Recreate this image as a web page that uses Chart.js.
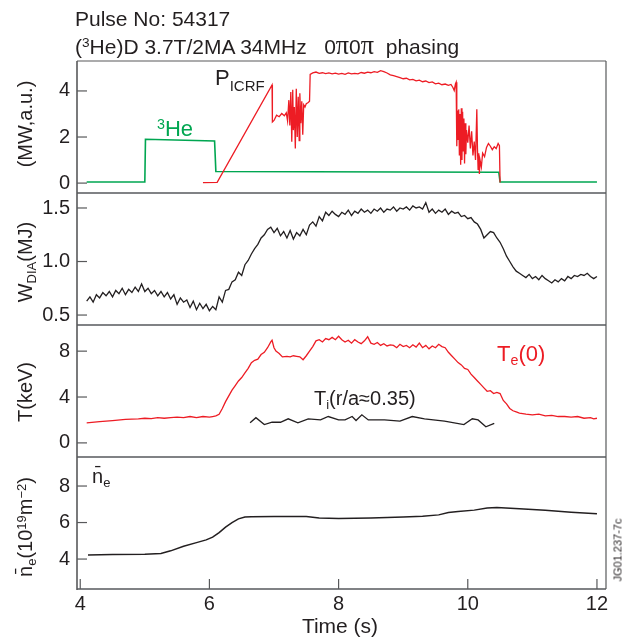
<!DOCTYPE html>
<html><head><meta charset="utf-8">
<script src="https://cdn.jsdelivr.net/npm/chart.js@4.4.1/dist/chart.umd.min.js"></script>
<style>
html,body{margin:0;padding:0;background:#fff;}
#wrap{position:relative;width:624px;height:641px;overflow:hidden;font-family:'Liberation Sans',Arial,sans-serif;color:#231f20;}
canvas{position:absolute;left:0;top:0;}
.t{position:absolute;white-space:nowrap;line-height:1;}
.rot{position:absolute;white-space:nowrap;line-height:1;transform:translate(-50%,-50%) rotate(-90deg);}
.sub{font-size:0.65em;position:relative;top:0.3em;}
.sup{font-size:0.65em;position:relative;top:-0.5em;}
.pi{font-family:'Liberation Serif','DejaVu Serif',serif;font-size:1.25em;}
</style></head>
<body><div id="wrap"><canvas id="c" width="624" height="641"></canvas>
<div class="t" style="left:75px;top:8px;font-size:21px">Pulse No: 54317</div>
<div class="t" style="left:75px;top:33px;font-size:21px">(<span class="sup">3</span>He)D 3.7T/2MA 34MHz&nbsp;&nbsp; 0<span class="pi">π</span>0<span class="pi">π</span>&nbsp; phasing</div>
<div class="t" style="left:157px;top:118px;font-size:22px;color:#00a651"><span class="sup">3</span>He</div>
<div class="t" style="left:215px;top:67px;font-size:22px">P<span class="sub" style="font-size:15px;top:6px">ICRF</span></div>
<div class="t" style="left:497px;top:343px;font-size:22px;color:#ed1c24">T<span class="sub">e</span>(0)</div>
<div class="t" style="left:314px;top:388px;font-size:20px">T<span class="sub">i</span>(r/a≈0.35)</div>
<div class="t" style="left:92px;top:466px;font-size:20px">n̄<span class="sub">e</span></div>
<div class="rot" style="left:25px;top:124px;font-size:20px">(MW,a.u.)</div>
<div class="rot" style="left:25px;top:262px;font-size:20px">W<span class="sub">DIA</span>(MJ)</div>
<div class="rot" style="left:25px;top:392px;font-size:20px">T(keV)</div>
<div class="rot" style="left:25px;top:527px;font-size:20px">n̄<span class="sub">e</span>(10<span class="sup">19</span>m<span class="sup">−2</span>)</div>
<div class="t" style="left:340px;top:615px;font-size:21px;transform:translateX(-50%)">Time (s)</div>
<div class="rot" style="left:618px;top:550px;font-size:11px">JG01.237-7c</div>
</div>
<script>
// ---- data ----
const xTicks = [4, 6, 8, 10, 12];
const pTicks = [0, 2, 4];
const wTicks = [0.5, 1.0, 1.5];
const tTicks = [0, 2, 4, 6, 8];
const tTickLabels = [0, 4, 8];
const nTicks = [4, 6, 8];

const heTime = [4.10, 5.00, 5.01, 6.08, 6.10, 10.48, 10.50, 12.00];
const heVal  = [0.05, 0.05, 1.90, 1.83, 0.50, 0.47, 0.05, 0.05];

const pTime = [5.90,6.12,6.97,6.975,7.00,7.04,7.08,7.12,7.16,7.19,7.21,7.23,7.245,7.26,7.275,7.29,7.30,7.315,7.33,7.345,7.36,7.375,7.39,7.40,7.415,7.43,7.445,7.46,7.48,7.50,7.53,7.55,7.56,7.60,7.65,7.70,7.75,7.80,7.85,7.90,7.95,8.00,8.05,8.10,8.15,8.20,8.25,8.30,8.35,8.40,8.45,8.50,8.55,8.60,8.65,8.70,8.75,8.80,8.85,8.90,8.95,9.00,9.05,9.10,9.15,9.20,9.25,9.30,9.35,9.40,9.45,9.50,9.55,9.60,9.65,9.70,9.74,9.77,9.79,9.81,9.82,9.83,9.84,9.85,9.86,9.87,9.88,9.89,9.90,9.91,9.92,9.93,9.94,9.95,9.96,9.97,9.98,10.00,10.02,10.04,10.06,10.08,10.10,10.12,10.14,10.15,10.16,10.17,10.18,10.19,10.21,10.23,10.26,10.29,10.32,10.35,10.38,10.41,10.44,10.47,10.49,10.50];
const pVal  = [0.02,0.03,4.26,2.65,2.72,2.95,2.88,3.02,2.92,3.05,2.70,3.60,2.50,3.95,1.80,4.05,2.30,3.30,1.50,4.10,2.00,3.75,1.85,3.90,2.60,3.55,2.10,3.40,3.30,3.45,3.50,3.55,4.72,4.78,4.82,4.76,4.79,4.75,4.78,4.74,4.77,4.73,4.76,4.72,4.78,4.74,4.76,4.74,4.80,4.77,4.82,4.79,4.84,4.81,4.88,4.84,4.78,4.70,4.66,4.62,4.58,4.53,4.55,4.48,4.50,4.44,4.47,4.40,4.43,4.36,4.39,4.31,4.34,4.27,4.30,4.24,4.28,4.15,4.02,4.32,4.38,1.60,3.15,1.90,3.20,1.20,3.00,0.80,3.25,1.00,3.10,1.40,2.80,0.85,2.60,1.25,2.30,1.75,2.50,1.50,2.25,1.20,1.80,1.00,3.20,1.50,0.60,1.30,0.40,1.00,0.70,1.30,1.15,1.55,1.72,1.60,1.45,1.58,1.50,1.72,1.62,0.03];

const wTime = [4.10,4.15,4.20,4.25,4.30,4.35,4.40,4.45,4.50,4.55,4.60,4.65,4.70,4.75,4.80,4.85,4.90,4.95,5.00,5.05,5.10,5.15,5.20,5.25,5.30,5.35,5.40,5.45,5.50,5.55,5.60,5.65,5.70,5.75,5.80,5.85,5.90,5.95,6.00,6.05,6.10,6.15,6.20,6.25,6.30,6.35,6.40,6.45,6.50,6.55,6.60,6.65,6.70,6.75,6.80,6.85,6.90,6.95,7.00,7.05,7.10,7.15,7.20,7.25,7.30,7.35,7.40,7.45,7.50,7.55,7.60,7.65,7.70,7.75,7.80,7.85,7.90,7.95,8.00,8.05,8.10,8.15,8.20,8.25,8.30,8.35,8.40,8.45,8.50,8.55,8.60,8.65,8.70,8.75,8.80,8.85,8.90,8.95,9.00,9.05,9.10,9.15,9.20,9.25,9.30,9.35,9.40,9.45,9.50,9.55,9.60,9.65,9.70,9.75,9.80,9.85,9.90,9.95,10.00,10.05,10.10,10.15,10.20,10.25,10.30,10.35,10.40,10.45,10.50,10.55,10.60,10.65,10.70,10.75,10.80,10.85,10.90,10.95,11.00,11.05,11.10,11.15,11.20,11.25,11.30,11.35,11.40,11.45,11.50,11.55,11.60,11.65,11.70,11.75,11.80,11.85,11.90,11.95,12.00];
const wVal  = [0.63,0.67,0.62,0.69,0.66,0.71,0.68,0.72,0.67,0.73,0.70,0.75,0.69,0.74,0.71,0.76,0.72,0.79,0.72,0.75,0.70,0.73,0.68,0.72,0.67,0.71,0.65,0.69,0.60,0.66,0.62,0.64,0.57,0.63,0.55,0.61,0.56,0.60,0.54,0.58,0.55,0.67,0.62,0.73,0.74,0.81,0.83,0.90,0.87,0.97,1.01,1.07,1.12,1.16,1.22,1.25,1.30,1.32,1.27,1.31,1.24,1.28,1.22,1.29,1.21,1.27,1.24,1.30,1.25,1.34,1.37,1.33,1.42,1.38,1.46,1.43,1.47,1.44,1.42,1.46,1.44,1.48,1.43,1.47,1.45,1.49,1.46,1.48,1.45,1.49,1.47,1.50,1.46,1.49,1.48,1.51,1.47,1.50,1.49,1.51,1.48,1.52,1.50,1.51,1.49,1.55,1.46,1.49,1.45,1.48,1.46,1.49,1.44,1.47,1.45,1.46,1.42,1.43,1.40,1.41,1.37,1.35,1.30,1.22,1.25,1.28,1.27,1.22,1.18,1.12,1.05,1.00,0.95,0.91,0.89,0.87,0.85,0.88,0.84,0.86,0.83,0.87,0.84,0.82,0.80,0.83,0.81,0.84,0.82,0.86,0.84,0.87,0.86,0.88,0.87,0.89,0.86,0.84,0.86];

const teTime = [4.10,4.30,4.50,4.70,4.90,5.00,5.10,5.20,5.30,5.40,5.50,5.60,5.70,5.80,5.90,6.00,6.05,6.10,6.15,6.20,6.25,6.30,6.35,6.40,6.45,6.50,6.55,6.60,6.65,6.70,6.75,6.80,6.85,6.90,6.95,6.97,7.00,7.03,7.08,7.13,7.20,7.25,7.30,7.35,7.40,7.45,7.50,7.55,7.60,7.65,7.70,7.75,7.80,7.85,7.90,7.95,8.00,8.05,8.10,8.15,8.20,8.25,8.30,8.35,8.40,8.45,8.50,8.55,8.60,8.65,8.70,8.75,8.80,8.85,8.90,8.95,9.00,9.05,9.10,9.15,9.20,9.25,9.30,9.35,9.40,9.45,9.50,9.55,9.60,9.65,9.70,9.75,9.80,9.85,9.90,9.95,10.00,10.05,10.10,10.15,10.20,10.25,10.30,10.35,10.40,10.45,10.50,10.55,10.60,10.65,10.70,10.75,10.80,10.90,11.00,11.10,11.20,11.30,11.40,11.50,11.60,11.70,11.80,11.90,11.95,12.00];
const teVal  = [1.75,1.85,1.95,2.05,2.10,2.15,2.12,2.20,2.15,2.20,2.25,2.20,2.30,2.20,2.30,2.25,2.30,2.35,2.50,3.00,3.60,4.10,4.60,5.00,5.40,5.70,6.10,6.50,7.00,7.20,7.30,7.70,7.90,8.30,8.80,8.95,8.30,8.00,7.80,7.50,7.55,7.50,7.60,7.55,7.50,7.25,7.60,8.00,8.40,8.90,9.00,8.80,9.10,9.00,9.20,9.00,9.30,9.00,8.80,8.95,8.70,9.00,8.80,8.65,8.90,9.25,8.70,8.60,8.75,8.50,8.65,8.45,8.55,8.50,8.30,8.60,8.40,8.50,8.30,8.55,8.35,8.70,8.30,8.50,8.20,8.45,8.30,8.60,8.40,8.30,7.90,7.60,7.30,7.00,6.80,6.50,6.40,6.00,5.70,5.40,5.10,4.80,4.50,4.55,4.30,4.40,4.30,3.70,3.40,3.00,2.80,2.70,2.60,2.50,2.45,2.50,2.35,2.40,2.30,2.30,2.25,2.30,2.15,2.20,2.10,2.15];

const tiTime = [6.63,6.72,6.85,6.97,7.10,7.22,7.37,7.53,7.72,7.84,8.00,8.10,8.21,8.27,8.36,8.46,8.71,8.95,9.14,9.33,9.64,9.94,10.07,10.16,10.28,10.41];
const tiVal  = [1.75,2.20,1.60,1.80,1.80,2.10,1.75,2.10,2.00,2.30,2.00,2.00,2.30,1.95,2.45,2.00,2.00,1.90,2.30,2.10,1.90,1.60,2.10,2.00,1.40,1.70];

const neTime = [4.12,4.50,5.00,5.25,5.40,5.60,5.80,5.95,6.05,6.15,6.25,6.35,6.45,6.55,6.65,7.00,7.50,7.70,8.00,8.50,9.00,9.30,9.55,9.70,9.85,10.10,10.30,10.45,10.80,11.20,11.60,12.00];
const neVal  = [4.22,4.25,4.27,4.30,4.45,4.70,4.90,5.05,5.20,5.45,5.75,6.00,6.20,6.30,6.32,6.33,6.33,6.25,6.22,6.25,6.30,6.35,6.42,6.55,6.60,6.68,6.80,6.82,6.76,6.68,6.57,6.48];

// ---- chart ----
const RED = '#ed1c24', GREEN = '#00a651', BLACK = '#231f20';
const zip = (xs, ys) => xs.map((x, i) => ({x, y: ys[i]}));
const FONT = {family: "'Liberation Sans', Arial, sans-serif", size: 20};

function yScale(min, max, ticks, fmt) {
  return {
    type: 'linear', position: 'left', stack: 'panels', stackWeight: 1,
    min, max,
    afterBuildTicks: s => { s.ticks = ticks.map(v => ({value: v})); },
    afterFit: s => { s.width = 77; },
    ticks: {font: FONT, color: BLACK, padding: 7, callback: fmt || (v => String(v))},
    grid: {display: false, drawTicks: false},
    border: {display: false}
  };
}

const frame = {
  id: 'frame',
  afterDatasetsDraw(chart) {
    const {ctx, chartArea: a, scales} = chart;
    ctx.save();
    const line = (x1, y1, x2, y2) => { ctx.beginPath(); ctx.moveTo(x1, y1); ctx.lineTo(x2, y2); ctx.stroke(); };
    ctx.strokeStyle = '#808285'; ctx.lineWidth = 2;
    ['yW', 'yT', 'yN'].forEach(id => line(a.left, scales[id].top, a.right, scales[id].top));
    line(a.left, a.bottom, a.right, a.bottom);
    ctx.strokeStyle = '#58595b'; ctx.lineWidth = 1.2;
    line(a.left, a.top, a.right, a.top);
    line(a.right, a.top, a.right, a.bottom);
    ctx.lineWidth = 1.6;
    line(a.left, a.top, a.left, a.bottom + 1);
    ctx.lineWidth = 1.2; ctx.strokeStyle = '#58595b';
    ['yP', 'yW', 'yT', 'yN'].forEach(id => {
      const s = scales[id];
      s.ticks.forEach(t => {
        const y = s.getPixelForValue(t.value);
        const len = (id === 'yT' && !tTickLabels.includes(t.value)) ? 5 : 10;
        line(a.left, y, a.left + len, y);
      });
    });
    const xs = scales.x;
    xs.ticks.forEach(t => { const x = xs.getPixelForValue(t.value); line(x, a.bottom, x, a.bottom - 10); });
    ctx.restore();
  }
};

new Chart(document.getElementById('c'), {
  type: 'line',
  data: {datasets: [
    {data: zip(pTime, pVal), yAxisID: 'yP', borderColor: RED, borderWidth: 1.3},
    {data: zip(heTime, heVal), yAxisID: 'yP', borderColor: GREEN, borderWidth: 1.6},
    {data: zip(wTime, wVal), yAxisID: 'yW', borderColor: BLACK, borderWidth: 1.3},
    {data: zip(teTime, teVal), yAxisID: 'yT', borderColor: RED, borderWidth: 1.3},
    {data: zip(tiTime, tiVal), yAxisID: 'yT', borderColor: BLACK, borderWidth: 1.3},
    {data: zip(neTime, neVal), yAxisID: 'yN', borderColor: BLACK, borderWidth: 1.5}
  ]},
  options: {
    responsive: false, animation: false, devicePixelRatio: 1,
    elements: {point: {radius: 0}, line: {tension: 0, fill: false}},
    layout: {padding: {left: 0, right: 18, top: 61, bottom: 0}},
    plugins: {legend: {display: false}, tooltip: {enabled: false}},
    scales: {
      x: {
        type: 'linear', position: 'bottom', min: 3.95, max: 12.14,
        afterBuildTicks: s => { s.ticks = xTicks.map(v => ({value: v})); },
        afterFit: s => { s.height = 52; },
        ticks: {font: FONT, color: BLACK, padding: 3, maxRotation: 0},
        grid: {display: false, drawTicks: false},
        border: {display: false}
      },
      yN: yScale(2.36, 9.59, nTicks),
      yT: yScale(-1.23, 10.28, tTicks, v => tTickLabels.includes(v) ? String(v) : ''),
      yW: yScale(0.407, 1.64, wTicks, v => v.toFixed(1)),
      yP: yScale(-0.43, 5.30, pTicks)
    }
  },
  plugins: [frame]
});
</script>
</body></html>
